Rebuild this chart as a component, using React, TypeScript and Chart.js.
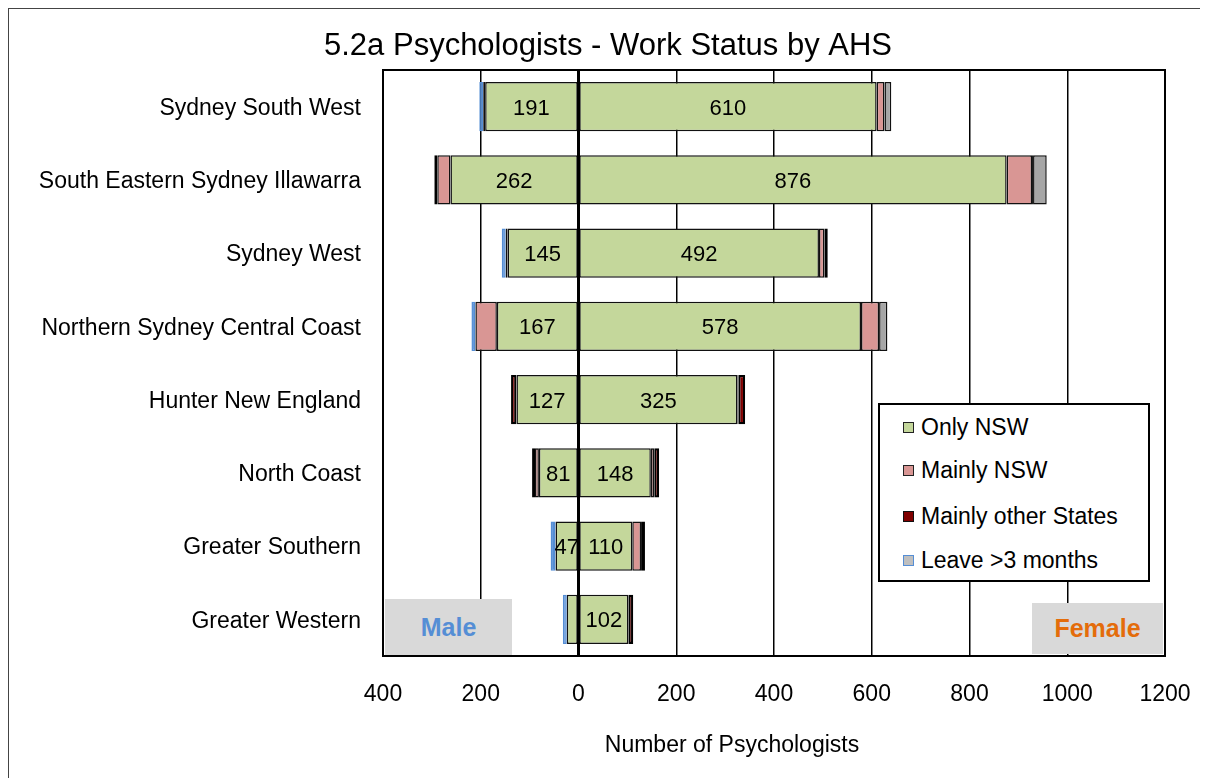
import React, { useEffect, useRef } from 'react';
import { Chart, registerables } from 'chart.js';
Chart.register(...registerables);

const chartTitle = '5.2a Psychologists - Work Status by AHS';
const axisTitle = 'Number of Psychologists';

const categories = [
  'Sydney South West',
  'South Eastern Sydney Illawarra',
  'Sydney West',
  'Northern Sydney Central Coast',
  'Hunter New England',
  'North Coast',
  'Greater Southern',
  'Greater Western',
];

const seriesNames = ['Only NSW', 'Mainly NSW', 'Mainly other States', 'Leave >3 months'];

// Male (drawn to the left)
const maleOnlyNSW = [191, 262, 145, 167, 127, 81, 47, 24];
const maleMainlyNSW = [4, 27, 4, 44, 0, 8, 0, 0];
const maleMainlyOther = [0, 6, 0, 0, 11, 6, 0, 0];
const maleLeave = [8, 0, 8, 8, 0, 0, 10, 8];

// Female (drawn to the right)
const femaleOnlyNSW = [610, 876, 492, 578, 325, 148, 110, 102];
const femaleMainlyNSW = [16, 52, 11, 37, 2, 7, 18, 0];
const femaleMainlyOther = [0, 2, 7, 0, 14, 10, 8, 10];
const femaleLeave = [14, 28, 0, 17, 0, 0, 0, 0];

const xMin = -400;
const xMax = 1200;
const xStep = 200;

const FONT = "'Liberation Sans', Arial, Helvetica, sans-serif";
const GREEN = '#C4D79B';
const PINK = '#D99694';
const DARKRED = '#7F0000';
const GREY = '#A6A6A6';
const BLUE = '#558ED5';
const EDGE = '#111111';

export default function App() {
  const ref = useRef<HTMLCanvasElement>(null);

  useEffect(() => {
    document.documentElement.style.overflow = 'hidden';
    document.body.style.overflow = 'hidden';

    const toData = (arr: number[], sign: number) => arr.map((v) => (v === 0 ? null : sign * v));
    const mk = (label: string, data: (number | null)[], bg: string, border: string, bw = 1.5) => ({
      label,
      data,
      backgroundColor: bg,
      borderColor: border,
      borderWidth: bw,
      borderSkipped: false,
      stack: 's',
      barPercentage: 0.67,
      categoryPercentage: 1,
    });
    const datasets: any[] = [
      mk('Male ' + seriesNames[0], toData(maleOnlyNSW, -1), GREEN, EDGE),
      mk('Male ' + seriesNames[1], toData(maleMainlyNSW, -1), PINK, EDGE),
      mk('Male ' + seriesNames[2], toData(maleMainlyOther, -1), DARKRED, '#000', 2.2),
      mk('Male ' + seriesNames[3], toData(maleLeave, -1), BLUE, BLUE),
      mk('Female ' + seriesNames[0], toData(femaleOnlyNSW, 1), GREEN, EDGE),
      mk('Female ' + seriesNames[1], toData(femaleMainlyNSW, 1), PINK, EDGE),
      mk('Female ' + seriesNames[2], toData(femaleMainlyOther, 1), DARKRED, '#000', 2.2),
      mk('Female ' + seriesNames[3], toData(femaleLeave, 1), GREY, EDGE),
    ];

    const labelSources: Record<number, number[]> = { 0: maleOnlyNSW, 4: femaleOnlyNSW };

    const overlay = {
      id: 'overlay',
      afterDatasetsDraw(chart: any) {
        const { ctx, chartArea, scales } = chart;
        ctx.save();
        // zero line on top of bars
        const x0 = scales.x.getPixelForValue(0);
        ctx.strokeStyle = '#000';
        ctx.lineWidth = 3;
        ctx.beginPath();
        ctx.moveTo(x0, chartArea.top);
        ctx.lineTo(x0, chartArea.bottom);
        ctx.stroke();
        // plot border
        ctx.lineWidth = 2;
        ctx.strokeRect(chartArea.left, chartArea.top, chartArea.right - chartArea.left, chartArea.bottom - chartArea.top);
        // value labels
        ctx.fillStyle = '#000';
        ctx.font = `22px ${FONT}`;
        ctx.textAlign = 'center';
        ctx.textBaseline = 'middle';
        Object.keys(labelSources).forEach((k) => {
          const idx = Number(k);
          const src = labelSources[idx];
          const meta = chart.getDatasetMeta(idx);
          meta.data.forEach((el: any, j: number) => {
            const v = src[j];
            if (!v || v < 30) return;
            const cx = (el.x + el.base) / 2;
            ctx.fillText(String(v), cx, el.y + 2);
          });
        });
        // chart title
        ctx.font = `31px ${FONT}`;
        ctx.textBaseline = 'alphabetic';
        ctx.fillText(chartTitle, 599, 46);
        // axis title
        ctx.font = `23px ${FONT}`;
        ctx.textBaseline = 'middle';
        ctx.fillText(axisTitle, 723, 737);
        ctx.restore();
      },
    };

    const chart = new Chart(ref.current as HTMLCanvasElement, {
      type: 'bar',
      data: { labels: categories, datasets },
      options: {
        indexAxis: 'y',
        animation: false,
        responsive: false,
        devicePixelRatio: 1,
        layout: { padding: { left: 0, right: 43, top: 61, bottom: 0 } },
        plugins: {
          legend: { display: false },
          tooltip: { enabled: false },
          title: { display: false },
        },
        scales: {
          x: {
            type: 'linear',
            stacked: true,
            min: xMin,
            max: xMax,
            border: { display: false },
            grid: { color: '#000', lineWidth: 1.5, drawTicks: false },
            ticks: {
              stepSize: xStep,
              color: '#000',
              padding: 25,
              font: { family: FONT, size: 23 },
              callback: (v: any) => String(Math.abs(Number(v))),
            },
            afterFit: (scale: any) => {
              scale.height = 122;
              scale.paddingLeft = 0;
              scale.paddingRight = 0;
            },
          },
          y: {
            type: 'category',
            stacked: true,
            border: { display: false },
            grid: { display: false, drawTicks: false },
            ticks: {
              color: '#000',
              padding: 22,
              labelOffset: 2,
              font: { family: FONT, size: 23 },
            },
            afterFit: (scale: any) => {
              scale.width = 374;
              scale.paddingTop = 0;
              scale.paddingBottom = 0;
            },
          },
        },
      } as any,
      plugins: [overlay],
    });
    return () => chart.destroy();
  }, []);

  const legendItems = [
    { name: seriesNames[0], fill: GREEN, border: '#222' },
    { name: seriesNames[1], fill: PINK, border: '#222' },
    { name: seriesNames[2], fill: DARKRED, border: '#111' },
    { name: seriesNames[3], fill: '#BFBFBF', border: BLUE },
  ];
  const legendY = [22, 65, 111, 155];

  return (
    <div
      style={{
        position: 'relative',
        width: 1199,
        height: 769,
        borderLeft: '1px solid #444',
        borderTop: '1px solid #444',
        fontFamily: FONT,
        overflow: 'hidden',
      }}
    >
      <canvas ref={ref} width={1199} height={769} style={{ display: 'block', position: 'absolute', left: 0, top: 0 }} />
      {/* Legend */}
      <div
        style={{
          position: 'absolute',
          left: 869,
          top: 394,
          width: 268,
          height: 175,
          border: '2px solid #000',
          background: '#fff',
        }}
      >
        {legendItems.map((it, i) => (
          <div
            key={it.name}
            style={{
              position: 'absolute',
              left: 23,
              top: legendY[i] - 13,
              height: 26,
              display: 'flex',
              alignItems: 'center',
              whiteSpace: 'nowrap',
            }}
          >
            <span
              style={{
                display: 'inline-block',
                width: 9,
                height: 9,
                background: it.fill,
                border: `1.5px solid ${it.border}`,
                marginRight: 7,
              }}
            />
            <span style={{ fontSize: 23, color: '#000' }}>{it.name}</span>
          </div>
        ))}
      </div>
      {/* Male box */}
      <div
        style={{
          position: 'absolute',
          left: 376,
          top: 590,
          width: 127,
          height: 56,
          background: '#D9D9D9',
          display: 'flex',
          alignItems: 'center',
          justifyContent: 'center',
          color: BLUE,
          fontWeight: 'bold',
          fontSize: 25,
        }}
      >
        Male
      </div>
      {/* Female box */}
      <div
        style={{
          position: 'absolute',
          left: 1023,
          top: 594,
          width: 131,
          height: 51,
          background: '#D9D9D9',
          display: 'flex',
          alignItems: 'center',
          justifyContent: 'center',
          color: '#E46C0A',
          fontWeight: 'bold',
          fontSize: 25,
        }}
      >
        Female
      </div>
    </div>
  );
}
